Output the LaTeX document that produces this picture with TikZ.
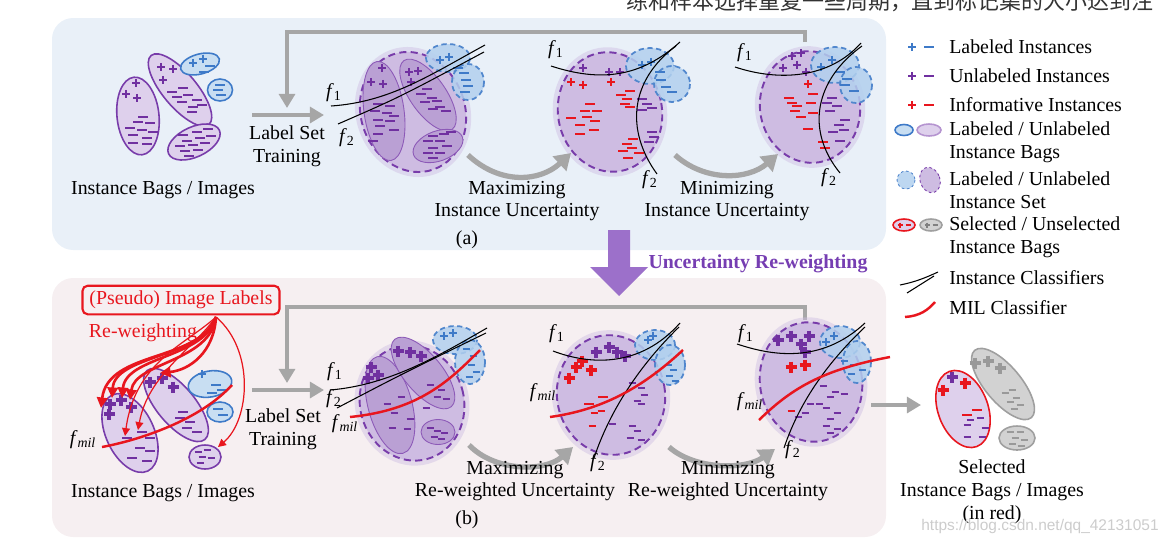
\documentclass[tikz,border=0pt]{standalone}
\usepackage{fontspec}
\setmainfont{Liberation Serif}
\newfontfamily\cjkfont{Noto Sans CJK SC}
\newfontfamily\wmfont{Liberation Sans}
\usetikzlibrary{arrows.meta}
\newcommand{\fc}[1]{\textit{f}\textsubscript{#1}}
\newcommand{\signs}[3]{\foreach \x/\y in {#3} \pic[#1] at (\x,\y) {#2};}

\begin{document}
\begin{tikzpicture}[x=0.02cm,y=-0.02cm]

		\definecolor{bgA}{RGB}{233,240,248}
		\definecolor{bgB}{RGB}{246,239,241}
		\definecolor{pur}{RGB}{112,48,160}
		\definecolor{bagline}{RGB}{120,60,170}
		\definecolor{bagfill}{RGB}{222,208,236}
		\definecolor{setfill}{RGB}{206,188,226}
		\definecolor{inbagfill}{RGB}{186,160,212}
		\definecolor{blu}{RGB}{62,122,200}
		\definecolor{blufill}{RGB}{200,222,242}
		\definecolor{setblue}{RGB}{178,208,238}
		\definecolor{infred}{RGB}{232,22,30}
		\definecolor{agray}{RGB}{166,166,166}
		\definecolor{bigpur}{RGB}{156,112,202}
		\definecolor{txtpur}{RGB}{118,62,178}

		\tikzset{
			txt/.style = {font=\fontsize{11.3}{13}\selectfont, align=center, inner sep=0pt},
			lgd/.style = {txt, anchor=west, align=left},
			bag/.style = {draw=bagline, fill=bagfill, line width=0.9pt},
			lbag/.style = {draw=blu, fill=blufill, line width=0.9pt},
			gbag/.style = {draw=gray!75, fill=gray!35, line width=0.9pt},
			sbag/.style = {draw=infred, fill=bagfill, line width=0.9pt},
			halo/.style = {fill=setfill, fill opacity=0.45},
			iset/.style = {draw=bagline, fill=setfill, line width=1.1pt, dash pattern=on 4pt off 2.5pt},
			lset/.style = {draw=blu!90, fill=setblue, fill opacity=0.85, line width=1pt, dash pattern=on 3pt off 2pt},
			inbag/.style = {draw=bagline!85, fill=inbagfill, line width=0.5pt},
			clf/.style = {draw=black, line width=0.6pt},
			mil/.style = {draw=infred, line width=1.4pt},
			flow/.style = {draw=agray, line width=2.3pt, -{Triangle[length=8pt,width=9pt]}},
			cflow/.style = {draw=agray, line width=3pt, -{Triangle[length=9pt,width=11pt]}},
			rw/.style = {draw=infred, line width=1.5pt, -{Triangle[length=6pt,width=6pt]}},
			rwthin/.style = {draw=infred, line width=0.7pt, -{Triangle[length=4.5pt,width=4.5pt]}},
			pls/.pic = {\draw[line width=1.4pt] (-4,0)--(4,0) (0,-4.2)--(0,4.2);},
			bpls/.pic = {\draw[line width=2.1pt] (-5.5,0)--(5.5,0) (0,-5.5)--(0,5.5);},
			tpls/.pic = {\draw[line width=0.7pt] (-2.5,0)--(2.5,0) (0,-2.5)--(0,2.5);},
			mns/.pic = {\draw[line width=1.3pt] (-4.8,0)--(4.8,0);},
			smns/.pic = {\draw[line width=0.9pt] (-3.5,0)--(3.5,0);},
			tmns/.pic = {\draw[line width=0.7pt] (-2.5,0)--(2.5,0);}
		}

		\useasboundingbox (0,0) rectangle (1159,545);

		% panels
		\fill[bgA, rounded corners=12pt] (52,18) rectangle (886,250);
		\fill[bgB, rounded corners=12pt] (52,278) rectangle (886,537);
		\fill[bigpur] (608,230) -- (630,230) -- (630,267) -- (648,267) -- (619,296) -- (590,267) -- (608,267) -- cycle;
		\node[txt, font=\fontsize{11.3}{13}\selectfont\bfseries, text=txtpur] (urw) at (758,264) {Uncertainty Re-weighting};
		\node[font=\cjkfont\fontsize{12.5}{14}\selectfont, text=black!80, inner sep=0pt] (hdr) at (890,1) {练和样本选择重复一些周期，直到标记集的大小达到注};

		%%%%%%%%%%%%%%%% (a)
		% instance bags
		\draw[bag, rotate around={6:(138,116)}] (138,116) ellipse (21 and 39);
		\draw[bag, rotate around={-50:(180,90)}] (180,90) ellipse (45 and 17);
		\draw[lbag, rotate around={15:(200,64)}] (200,64) ellipse (20 and 10);
		\draw[lbag] (220,90) ellipse (12.5 and 11);
		\draw[bag, rotate around={25:(194,142)}] (194,142) ellipse (28 and 15);
		\signs{pur}{pls}{136/83, 126/94, 137/98, 161/67, 173/69, 163/80}
		\signs{pur}{mns}{143/117, 138/122, 150/123, 130/128, 142/130, 153/132, 133/135, 147/138, 133/143, 147/144,
			172/92, 183/88, 177/97, 188/95, 182/102, 197/100, 193/107, 202/105, 192/112,
			183/135, 197/132, 208/129, 187/141, 200/138, 211/136, 180/146, 193/145, 205/143, 185/151, 198/150, 189/156}
		\signs{blu}{pls}{193/63, 203/59}
		\signs{blu}{mns}{210/66, 204/72, 220/85, 218/90, 221/95}
		\node[txt] (bagsA) at (163,190) {Instance Bags / Images};

		% label set training
		\coordinate (lsA0) at (252,115);
		\coordinate (lsA1) at (324,115);
		\coordinate (fbA0) at (805,42);
		\coordinate (fbA1) at (287,108);
		\draw[flow] (lsA0) -- (lsA1);
		\draw[flow] (fbA0) -- ++(0,-10) -| (fbA1);
		\node[txt] (lstA) at (287,146) {Label Set\\Training};

		% set 1
		\fill[halo, rotate around={20:(413,112)}] (413,112) ellipse (57 and 66);
		\draw[iset, rotate around={20:(413,112)}] (413,112) ellipse (52 and 61);
		\draw[lset] (448,58) ellipse (22 and 14);
		\draw[lset] (468,82) ellipse (16 and 18);
		\draw[inbag, rotate around={8:(384,111)}] (384,111) ellipse (20 and 50);
		\draw[inbag, rotate around={-55:(428,95)}] (428,95) ellipse (42 and 18);
		\draw[inbag, rotate around={20:(438,146)}] (438,146) ellipse (26 and 15);
		\signs{pur}{pls}{382/68, 371/82, 383/84, 409/72, 418/71, 411/82}
		\signs{pur}{mns}{378/104, 390/106, 375/111, 387/113, 394/116, 378/120, 390/121, 380/126, 394/130, 378/134, 373/141,
			427/89, 421/94, 432/98, 425/102, 437/101, 440/107, 433/109, 446/111,
			433/136, 444/134, 451/132, 428/141, 440/141, 433/148, 447/146, 428/153, 440/153, 433/158}
		\signs{blu}{pls}{440/60, 449/57}
		\signs{blu}{mns}{458/68, 464/73, 466/80, 468/86, 465/92}
		\draw[clf] (331,106) .. controls (390,102) and (430,75) .. (485,45);
		\draw[clf] (338,124) .. controls (400,97) .. (484,52);
		\node[txt] (f1a1) at (334,93) {\fc{1}};
		\node[txt] (f2a1) at (347,138) {\fc{2}};

		% set 2
		\fill[halo, rotate around={10:(610,112)}] (610,112) ellipse (57 and 65);
		\draw[iset, rotate around={10:(610,112)}] (610,112) ellipse (52 and 60);
		\draw[lset] (650,66) ellipse (24 and 18);
		\draw[lset] (672,84) ellipse (18 and 18);
		\signs{pur}{pls}{583/68, 609/72, 620/72}
		\signs{infred}{pls}{571/82, 583/85, 611/82}
		\signs{infred}{mns}{590/104, 585/111, 597/111, 571/118, 587/117, 595/121, 580/125, 594/130, 580/134,
			630/91, 621/95, 627/99, 625/104, 630/107,
			633/139, 627/144, 632/148, 623/151, 639/153, 628/158}
		\signs{pur}{mns}{642/99, 647/104, 642/110, 652/108, 652/132, 654/137, 649/142}
		\signs{blu}{pls}{642/65, 651/62}
		\signs{blu}{mns}{660/72, 661/80, 666/87, 672/92}
		\draw[clf] (551,66) .. controls (600,82) and (640,78) .. (680,42);
		\draw[clf] (676,46) .. controls (630,80) and (625,130) .. (657,174);
		\node[txt] (f1a2) at (556,50) {\fc{1}};
		\node[txt] (f2a2) at (650,180) {\fc{2}};

		% set 3
		\fill[halo, rotate around={10:(810,107)}] (810,107) ellipse (55 and 61);
		\draw[iset, rotate around={10:(810,107)}] (810,107) ellipse (50 and 56);
		\draw[lset] (835,65) ellipse (24 and 18);
		\draw[lset] (856,85) ellipse (16 and 18);
		\signs{pur}{pls}{792/56, 801/53, 783/68, 797/65, 806/72}
		\signs{infred}{pls}{808/84}
		\signs{infred}{mns}{789/98, 792/103, 797/106, 795/111, 801/117, 808/129, 813/94, 811/103, 813/113, 823/142, 825/148}
		\signs{pur}{mns}{827/103, 832/98, 837/106, 830/111, 845/120, 839/125, 844/130, 833/132, 840/141}
		\signs{blu}{pls}{821/67, 832/60}
		\signs{blu}{mns}{840/72, 847/79, 845/85, 854/91}
		\draw[clf] (735,67) .. controls (780,82) and (830,78) .. (861,43);
		\draw[clf] (862,46) .. controls (815,80) and (805,130) .. (840,173);
		\node[txt] (f1a3) at (745,53) {\fc{1}};
		\node[txt] (f2a3) at (829,178) {\fc{2}};

		% steps
		\coordinate (mxA0) at (468,155);
		\coordinate (mxA1) at (571,153);
		\coordinate (mnA0) at (675,155);
		\coordinate (mnA1) at (778,154);
		\draw[cflow] (mxA0) .. controls (500,185) and (540,182) .. (mxA1);
		\draw[cflow] (mnA0) .. controls (705,182) and (748,180) .. (mnA1);
		\node[txt] (maxA) at (517,201) {Maximizing\\Instance Uncertainty};
		\node[txt] (minA) at (727,201) {Minimizing\\Instance Uncertainty};
		\node[txt] (capA) at (467,240) {(a)};

		%%%%%%%%%%%%%%%% (b)
		\node[txt, text=infred, draw=infred, line width=1.2pt, rounded corners=3pt, inner xsep=4pt, inner ysep=3pt] (pil) at (181,300) {(Pseudo) Image Labels};
		\node[txt, text=infred] (rwt) at (143,333) {Re-weighting};

		% instance bags
		\draw[bag, rotate around={25:(130,433)}] (130,433) ellipse (24 and 42);
		\draw[bag, rotate around={-50:(176,405)}] (176,405) ellipse (45 and 19);
		\draw[lbag, rotate around={10:(210,384)}] (210,384) ellipse (22 and 13);
		\draw[lbag] (220,412) ellipse (13 and 10);
		\draw[bag] (205,457) ellipse (16 and 12);
		\signs{pur}{bpls}{110/404, 121/400, 131/407, 109/414, 150/382, 162/378, 173/387}
		\signs{pur}{mns}{127/438, 142/432, 150/438, 140/448, 150/451, 132/458, 147/461,
			183/412, 180/418, 190/422, 187/428, 197/432}
		\signs{pur}{smns}{198/452, 207/450, 202/457, 211/458, 200/463}
		\signs{blu}{pls}{202/374}
		\signs{blu}{mns}{216/385, 222/390, 212/393, 218/409, 223/415}
		\coordinate (milL0) at (102,447);
		\coordinate (milL1) at (232,385);
		\draw[mil] (milL0) .. controls (140,440) and (200,420) .. (milL1);
		\node[txt] (fml) at (83,440) {\fc{\textit{mil}}};

		% re-weighting arrows
		\coordinate (rw0) at (216,317);
		\draw[rw] (rw0) .. controls (200,362) and (108,350) .. (101,408);
		\draw[rw] (rw0) .. controls (202,358) and (115,355) .. (112,398);
		\draw[rw] (rw0) .. controls (206,358) and (126,356) .. (122,398);
		\draw[rw] (rw0) .. controls (210,362) and (135,362) .. (130,400);
		\draw[rw] (rw0) .. controls (214,352) and (190,370) .. (160,373);
		\draw[rwthin] (rw0) .. controls (185,345) and (135,362) .. (125,436);
		\draw[rwthin] (rw0) .. controls (192,350) and (148,375) .. (138,430);
		\draw[rwthin] (rw0) .. controls (255,350) and (250,420) .. (218,447);
		\node[txt] (bagsB) at (163,493) {Instance Bags / Images};

		% label set training
		\coordinate (lsB0) at (252,390);
		\coordinate (lsB1) at (324,390);
		\coordinate (fbB0) at (805,320);
		\coordinate (fbB1) at (287,383);
		\draw[flow] (lsB0) -- (lsB1);
		\draw[flow] (fbB0) -- ++(0,-13) -| (fbB1);
		\node[txt] (lstB) at (283,429) {Label Set\\Training};

		% set 1
		\fill[halo, rotate around={15:(412,403)}] (412,403) ellipse (57 and 63);
		\draw[iset, rotate around={15:(412,403)}] (412,403) ellipse (52 and 58);
		\draw[lset] (455,340) ellipse (22 and 14);
		\draw[lset] (470,362) ellipse (15 and 22);
		\draw[inbag, rotate around={15:(390,405)}] (390,405) ellipse (22 and 50);
		\draw[inbag, rotate around={-50:(423,373)}] (423,373) ellipse (44 and 19);
		\draw[inbag] (438,432) ellipse (17 and 12.5);
		\signs{pur}{bpls}{371/367, 378/375, 368/378, 398/351, 410/352, 421/356}
		\signs{pur}{smns}{387/404, 401/397, 394/413, 410/419, 392/428, 407/429, 430/385, 441/390, 437/397, 446/399, 426/408,
			430/428, 437/431, 444/433, 434/437, 441/439}
		\signs{blu}{pls}{444/336, 453/333}
		\signs{blu}{smns}{466/349, 473/356, 471/365, 476/372, 469/377}
		\draw[clf] (330,390) .. controls (390,385) and (440,355) .. (487,328);
		\draw[clf] (337,408) .. controls (400,375) .. (486,333);
		\draw[mil] (350,417) .. controls (420,410) and (450,380) .. (480,350);
		\node[txt] (f1b1) at (335,372) {\fc{1}};
		\node[txt] (f2b1) at (334,399) {\fc{2}};
		\node[txt] (fmb1) at (345,424) {\fc{\textit{mil}}};

		% set 2
		\fill[halo, rotate around={10:(611,395)}] (611,395) ellipse (59 and 65);
		\draw[iset, rotate around={10:(611,395)}] (611,395) ellipse (54 and 60);
		\draw[lset] (655,345) ellipse (20 and 15);
		\draw[lset] (670,365) ellipse (15 and 20);
		\signs{pur}{bpls}{596/352, 609/347, 617/352, 625/356}
		\signs{infred}{bpls}{576/367, 591/370, 569/378, 582/361}
		\signs{infred}{mns}{589/404, 603/397}
		\signs{infred}{smns}{594/413, 601/411, 592/426}
		\signs{pur}{smns}{632/383, 641/388, 644/395, 637/401, 641/404, 612/424, 632/426, 637/431, 630/438, 641/440}
		\signs{blu}{pls}{648/340, 653/336}
		\signs{blu}{smns}{668/365, 673/370, 669/376, 675/381}
		\draw[clf] (553,351) .. controls (590,365) and (640,368) .. (680,323);
		\draw[clf] (679,327) .. controls (640,365) and (610,410) .. (594,458);
		\draw[mil] (550,417) .. controls (600,410) and (640,390) .. (683,350);
		\node[txt] (f1b2) at (557,334) {\fc{1}};
		\node[txt] (fmb2) at (543,393) {\fc{\textit{mil}}};
		\node[txt] (f2b2) at (598,463) {\fc{2}};

		% set 3
		\fill[halo, rotate around={10:(811,382)}] (811,382) ellipse (56 and 65);
		\draw[iset, rotate around={10:(811,382)}] (811,382) ellipse (51 and 60);
		\draw[lset] (840,342) ellipse (20 and 16);
		\draw[lset] (857,362) ellipse (14 and 21);
		\signs{pur}{bpls}{778/340, 791/336, 801/344, 809/336, 805/352}
		\signs{infred}{bpls}{791/367, 805/365}
		\signs{infred}{smns}{791/411}
		\signs{pur}{smns}{823/386, 835/392, 830/397, 844/394, 810/404, 819/404, 826/408, 805/413, 798/417, 837/413,
			830/419, 826/426, 837/429, 830/433}
		\signs{blu}{pls}{826/342, 834/336}
		\signs{blu}{smns}{844/361, 853/365, 862/370, 851/374}
		\draw[clf] (737,344) .. controls (770,355) and (820,365) .. (865,323);
		\draw[clf] (865,327) .. controls (830,360) and (800,400) .. (784,448);
		\draw[mil] (759,420) .. controls (790,390) and (820,370) .. (890,357);
		\node[txt] (f1b3) at (746,334) {\fc{1}};
		\node[txt] (fmb3) at (750,402) {\fc{\textit{mil}}};
		\node[txt] (f2b3) at (793,450) {\fc{2}};

		% steps
		\coordinate (mxB0) at (469,445);
		\coordinate (mxB1) at (573,447);
		\coordinate (mnB0) at (669,447);
		\coordinate (mnB1) at (775,449);
		\draw[cflow] (mxB0) .. controls (495,472) and (545,472) .. (mxB1);
		\draw[cflow] (mnB0) .. controls (695,470) and (745,470) .. (mnB1);
		\node[txt] (maxB) at (515,481) {Maximizing\\Re-weighted Uncertainty};
		\node[txt] (minB) at (728,481) {Minimizing\\Re-weighted Uncertainty};
		\node[txt] (capB) at (467,520) {(b)};

		% selected bags
		\coordinate (selA) at (871,405);
		\coordinate (selB) at (921,405);
		\draw[flow] (selA) -- (selB);
		\draw[sbag, rotate around={20:(963,409)}] (963,409) ellipse (25 and 40);
		\draw[gbag, rotate around={-50:(1003,384)}] (1003,384) ellipse (44 and 18);
		\draw[gbag] (1017,438) ellipse (18 and 12);
		\signs{pur}{bpls}{952/377}
		\signs{infred}{bpls}{943/390, 965/383}
		\signs{infred}{mns}{967/415, 977/410}
		\signs{pur}{smns}{970/420, 980/418, 967/425, 985/428, 967/437, 982/437}
		\signs{gray!80}{bpls}{975/363, 988/361, 1000/368}
		\signs{gray!80}{smns}{1005/393, 1012/390, 1016/398, 1010/402, 1020/405, 1014/409,
			1010/432, 1020/432, 1015/438, 1024/440, 1012/444, 1021/446}
		\node[txt] (selT) at (992,492) {Selected\\Instance Bags / Images\\(in red)};
		\node[font=\wmfont\fontsize{8.8}{10}\selectfont, text=black!20, inner sep=0pt] (wm) at (1040,526) {https://blog.csdn.net/qq\_42131051};

		%%%%%%%%%%%%%%%% legend
		\signs{blu}{pls}{912/47} \signs{blu}{mns}{929/47}
		\signs{pur}{pls}{912/76} \signs{pur}{mns}{929/76}
		\signs{infred}{pls}{912/105} \signs{infred}{mns}{929/105}
		\draw[lbag] (904,130) ellipse (9 and 5.5);
		\draw[bag, draw=bagline!55] (929,130) ellipse (12 and 6);
		\draw[lset, line width=0.5pt, dash pattern=on 1.5pt off 1.5pt] (906,180) ellipse (9 and 9);
		\draw[iset, line width=0.5pt, dash pattern=on 1.5pt off 1.5pt, rotate around={20:(930,180)}] (930,180) ellipse (10 and 13);
		\draw[sbag] (904,225) ellipse (11 and 6);
		\draw[gbag] (931,225) ellipse (11 and 6);
		\signs{infred}{tpls}{900/225} \signs{infred}{tmns}{908/225}
		\signs{gray}{tpls}{927/225} \signs{gray}{tmns}{935/225}
		\draw[clf] (900,285) .. controls (915,282) and (925,278) .. (938,272);
		\draw[clf] (907,293) -- (934,276);
		\draw[mil] (905,317) .. controls (920,316) and (928,310) .. (935,302);
		\node[lgd] (lg1) at (949,47) {Labeled Instances};
		\node[lgd] (lg2) at (949,76) {Unlabeled Instances};
		\node[lgd] (lg3) at (949,105) {Informative Instances};
		\node[lgd] (lg4) at (949,142) {Labeled / Unlabeled\\Instance Bags};
		\node[lgd] (lg5) at (949,190) {Labeled / Unlabeled\\Instance Set};
		\node[lgd] (lg6) at (949,237) {Selected / Unselected\\Instance Bags};
		\node[lgd] (lg7) at (949,278) {Instance Classifiers};
		\node[lgd] (lg8) at (949,308) {MIL Classifier};
\end{tikzpicture}
\end{document}
